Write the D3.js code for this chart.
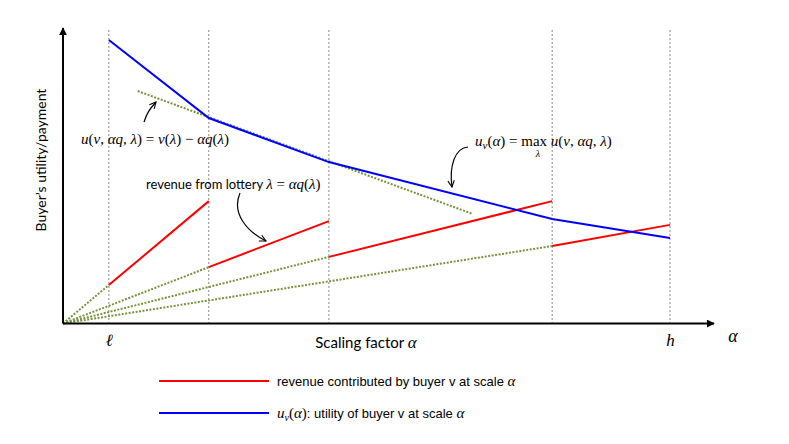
<!DOCTYPE html>
<html>
<head>
<meta charset="utf-8">
<script src="https://cdn.jsdelivr.net/npm/d3@7/dist/d3.min.js"></script>
<style>
  body { margin: 0; background: #fff; }
  svg { display: block; }
  .math { font-family: "Liberation Serif", serif; }
  .sans { font-family: Lato, "Open Sans", sans-serif; }
</style>
</head>
<body>
<div id="chart"></div>
<script>
(function () {
  'use strict';

  var w = 789,
      h = 444;

  // breakpoints on the alpha axis (l, kinks, h)
  var alphaBreaks = [1, 3.18, 5.8, 10.67, 13.24];
  var alphaTickLabels = ['ℓ', 'h'];
  // buyer utility u_v(alpha) at each breakpoint
  var utility = [9.66, 7.0, 5.5, 3.56, 2.91];
  // revenue at start / end of each segment
  var revenueStart = [1.31, 1.92, 2.27, 2.64];
  var revenueEnd = [4.17, 3.49, 4.17, 3.36];
  // dotted utility line of one lottery (alpha, u)
  var tangentAlpha = [1.63, 8.94];
  var tangentU = [7.92, 3.73];

  var svg = d3.select('#chart').append('svg')
    .attr('width', w)
    .attr('height', h);

  var x = d3.scaleLinear().domain([0, 14.2]).range([63, 714]);
  var y = d3.scaleLinear().domain([0, 10]).range([323.5, 30]);

  var defs = svg.append('defs');
  defs.append('marker')
    .attr('id', 'axhead')
    .attr('viewBox', '0 0 10 10')
    .attr('refX', 9).attr('refY', 5)
    .attr('markerWidth', 4).attr('markerHeight', 4)
    .attr('orient', 'auto')
    .append('path').attr('d', 'M0,0L10,5L0,10z').attr('fill', '#000');
  defs.append('marker')
    .attr('id', 'thinhead')
    .attr('viewBox', '0 0 10 10')
    .attr('refX', 9).attr('refY', 5)
    .attr('markerWidth', 8).attr('markerHeight', 8)
    .attr('markerUnits', 'userSpaceOnUse')
    .attr('orient', 'auto')
    .append('path').attr('d', 'M1,1L9,5L1,9').attr('fill', 'none')
    .attr('stroke', '#000').attr('stroke-width', 1.4);

  // vertical guides at breakpoints
  svg.selectAll('line.guide')
    .data(alphaBreaks)
    .enter().append('line')
    .attr('class', 'guide')
    .attr('x1', function (d) { return x(d); })
    .attr('x2', function (d) { return x(d); })
    .attr('y1', y(10))
    .attr('y2', y(0))
    .attr('stroke', '#888')
    .attr('stroke-width', 1)
    .attr('stroke-dasharray', '2,2');

  var segs = d3.range(revenueStart.length).map(function (i) {
    return {a0: alphaBreaks[i], a1: alphaBreaks[i + 1], r0: revenueStart[i], r1: revenueEnd[i]};
  });

  var green = '#77933c';

  // dotted rays from origin
  svg.selectAll('line.ray')
    .data(segs)
    .enter().append('line')
    .attr('class', 'ray')
    .attr('x1', x(0)).attr('y1', y(0))
    .attr('x2', function (d) { return x(d.a0); })
    .attr('y2', function (d) { return y(d.r0); })
    .attr('stroke', green)
    .attr('stroke-width', 2)
    .attr('stroke-dasharray', '2,1.5');

  // dotted utility line
  svg.append('line')
    .attr('x1', x(tangentAlpha[0])).attr('y1', y(tangentU[0]))
    .attr('x2', x(tangentAlpha[1])).attr('y2', y(tangentU[1]))
    .attr('stroke', green)
    .attr('stroke-width', 2)
    .attr('stroke-dasharray', '2,1.5');

  // revenue segments
  svg.selectAll('line.rev')
    .data(segs)
    .enter().append('line')
    .attr('class', 'rev')
    .attr('x1', function (d) { return x(d.a0); })
    .attr('y1', function (d) { return y(d.r0); })
    .attr('x2', function (d) { return x(d.a1); })
    .attr('y2', function (d) { return y(d.r1); })
    .attr('stroke', '#ff0000')
    .attr('stroke-width', 2);

  // utility curve
  var lineFun = d3.line()
    .x(function (d, i) { return x(alphaBreaks[i]); })
    .y(function (d) { return y(d); });

  svg.append('path')
    .attr('d', lineFun(utility))
    .attr('fill', 'none')
    .attr('stroke', '#0000ff')
    .attr('stroke-width', 2);

  // axes
  svg.append('line')
    .attr('x1', x(0)).attr('y1', y(0))
    .attr('x2', x(14.2)).attr('y2', y(0))
    .attr('stroke', '#000').attr('stroke-width', 2)
    .attr('marker-end', 'url(#axhead)');
  svg.append('line')
    .attr('x1', x(0)).attr('y1', y(0))
    .attr('x2', x(0)).attr('y2', 28)
    .attr('stroke', '#000').attr('stroke-width', 2)
    .attr('marker-end', 'url(#axhead)');

  var xAxis = d3.axisBottom(x)
    .tickValues([alphaBreaks[0], alphaBreaks[alphaBreaks.length - 1]])
    .tickFormat(function (d, i) { return alphaTickLabels[i]; })
    .tickSize(0)
    .tickPadding(10);
  var gx = svg.append('g')
    .attr('transform', 'translate(0,' + y(0) + ')')
    .call(xAxis);
  gx.select('.domain').remove();
  gx.selectAll('text')
    .style('font-family', '"Liberation Serif", serif')
    .style('font-style', 'italic')
    .style('font-size', '17px')
    .attr('fill', '#000');

  svg.append('text')
    .attr('class', 'math')
    .attr('x', 733).attr('y', 342)
    .attr('text-anchor', 'middle')
    .style('font-style', 'italic')
    .style('font-size', '18px')
    .text('α');

  // axis titles
  svg.append('text')
    .attr('class', 'sans')
    .attr('x', 366).attr('y', 348)
    .attr('text-anchor', 'middle')
    .style('font-size', '15px')
    .html('Scaling factor <tspan class="math" font-style="italic" font-size="17">α</tspan>');

  svg.append('text')
    .attr('class', 'sans')
    .attr('transform', 'translate(46,160) rotate(-90)')
    .attr('text-anchor', 'middle')
    .style('font-size', '14px')
    .text('Buyer\u2019s utility/payment');

  // annotations
  function it(s) { return '<tspan font-style="italic">' + s + '</tspan>'; }

  svg.append('text')
    .attr('class', 'math')
    .attr('x', 155).attr('y', 144)
    .attr('text-anchor', 'middle')
    .style('font-size', '15px')
    .html(it('u') + '(' + it('v') + ', ' + it('αq') + ', ' + it('λ') + ') = ' +
          it('v') + '(' + it('λ') + ') − ' + it('αq') + '(' + it('λ') + ')');

  var t2 = svg.append('text')
    .attr('x', 146).attr('y', 189)
    .style('font-size', '13px');
  t2.append('tspan').attr('class', 'sans').text('revenue from lottery ');
  t2.append('tspan').attr('class', 'math').style('font-size', '15px')
    .html(it('λ') + ' = ' + it('αq') + '(' + it('λ') + ')');

  svg.append('text')
    .attr('class', 'math')
    .attr('x', 475).attr('y', 146)
    .style('font-size', '15px')
    .html(it('u') + '<tspan font-size="11" dy="3" font-style="italic">v</tspan>' +
          '<tspan dy="-3">(</tspan>' + it('α') + ') = max ' +
          it('u') + '(' + it('v') + ', ' + it('αq') + ', ' + it('λ') + ')');
  svg.append('text')
    .attr('class', 'math')
    .attr('x', 538).attr('y', 157)
    .attr('text-anchor', 'middle')
    .style('font-size', '10px')
    .style('font-style', 'italic')
    .text('λ');

  var arrows = [
    'M144,122C147,113 149,110 156,102',
    'M240,193C231,214 248,232 266,241',
    'M468,147C455,148 449,166 452,187'
  ];
  svg.selectAll('path.arrow')
    .data(arrows)
    .enter().append('path')
    .attr('class', 'arrow')
    .attr('d', function (d) { return d; })
    .attr('fill', 'none')
    .attr('stroke', '#000')
    .attr('stroke-width', 1.2)
    .attr('marker-end', 'url(#thinhead)');

  // legend
  var ser = 'font-family="Liberation Serif" font-size="15"';
  var legend = [
    {color: '#ff0000', y: 381, html: 'revenue contributed by buyer v at scale <tspan ' + ser + ' font-style="italic">α</tspan>'},
    {color: '#0000ff', y: 413, html: '<tspan ' + ser + ' font-style="italic">u</tspan><tspan font-family="Liberation Serif" font-style="italic" font-size="10" dy="3">v</tspan><tspan dy="-3" ' + ser + '>(</tspan><tspan ' + ser + ' font-style="italic">α</tspan><tspan ' + ser + '>)</tspan>: utility of buyer v at scale <tspan ' + ser + ' font-style="italic">α</tspan>'}
  ];
  var lg = svg.selectAll('g.legend')
    .data(legend)
    .enter().append('g')
    .attr('class', 'legend');
  lg.append('line')
    .attr('x1', 159).attr('x2', 269)
    .attr('y1', function (d) { return d.y; })
    .attr('y2', function (d) { return d.y; })
    .attr('stroke', function (d) { return d.color; })
    .attr('stroke-width', 2);
  lg.append('text')
    .attr('x', 277)
    .attr('y', function (d) { return d.y + 4.5; })
    .style('font-family', '"Liberation Sans", Arial, sans-serif')
    .style('font-size', '13px')
    .html(function (d) { return d.html; });

}());
</script>
</body>
</html>
